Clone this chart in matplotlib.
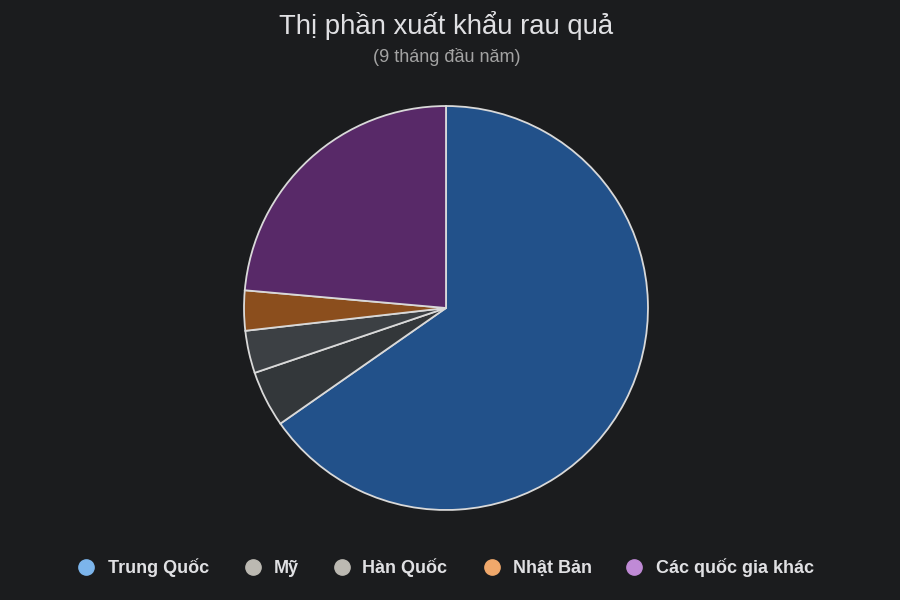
import matplotlib
matplotlib.use("Agg")
import matplotlib.pyplot as plt
from matplotlib.lines import Line2D

plt.rcParams['font.family'] = ['Liberation Sans', 'DejaVu Sans']

# data (share, %)
countries = ["Trung Quốc", "Mỹ", "Hàn Quốc", "Nhật Bản", "Các quốc gia khác"]
shares = [65.3, 4.5, 3.4, 3.2, 23.6]

slice_colors = ["#22518a", "#33373a", "#3c4044", "#8b4e1d", "#582968"]
legend_colors = ["#7cb5ec", "#bcb9b2", "#bcb9b2", "#f0a86b", "#c08ad6"]

bg = "#1b1c1e"
W, H = 900, 600

fig = plt.figure(figsize=(9, 6), dpi=100, facecolor=bg)

# pie centre ~ (446, 308) px, radius ~ 204 px
cx, cy, r = 446 / W, 1 - 308 / H, 204
ax = fig.add_axes([cx - r / W, cy - r / H, 2 * r / W, 2 * r / H])
ax.set_facecolor(bg)
ax.pie(shares, colors=slice_colors, startangle=90, counterclock=False,
       radius=1, wedgeprops=dict(edgecolor="#d9d9d9", linewidth=1.3))
ax.set_xlim(-1.01, 1.01)
ax.set_ylim(-1.01, 1.01)
ax.set_aspect("equal")
ax.axis("off")

fig.text(446.5 / W, 1 - 34 / H, "Thị phần xuất khẩu rau quả", ha="center", va="baseline",
         color="#e0e0e3", fontsize=19.8)
fig.text(446.5 / W, 1 - 62 / H, "(9 tháng đầu năm)", ha="center", va="baseline",
         color="#a3a3a3", fontsize=13)

# legend drawn by hand so the labels share one baseline
marker_x = [86, 253, 342, 492, 634]
text_x = [108, 274, 362, 513, 656]
for name, col, mx, tx in zip(countries, legend_colors, marker_x, text_x):
    fig.add_artist(Line2D([mx / W], [1 - 567 / H], transform=fig.transFigure,
                          marker="o", linestyle="none", markersize=11,
                          markerfacecolor=col, markeredgecolor=col))
    fig.text(tx / W, 1 - 573 / H, name, ha="left", va="baseline",
             color="#e0e0e3", fontsize=13, fontweight="bold")

fig.savefig("out.png", dpi=100, facecolor=bg)
